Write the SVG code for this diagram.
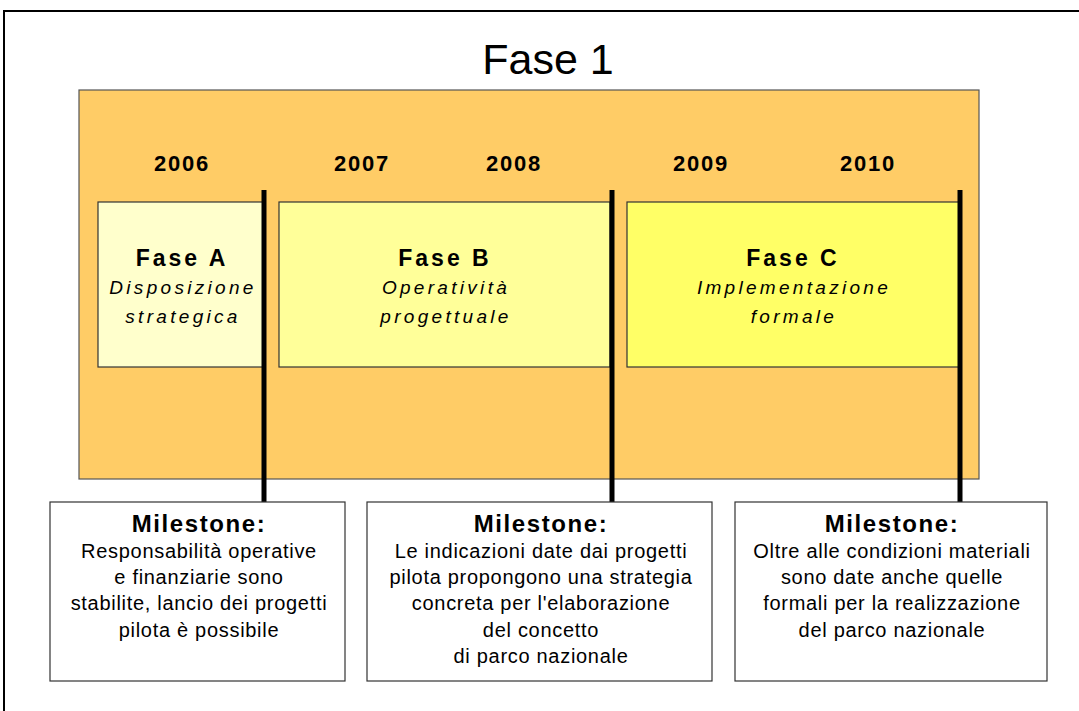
<svg xmlns="http://www.w3.org/2000/svg" width="1079" height="711" viewBox="0 0 1079 711">
<style>
text{font-family:"Liberation Sans",Arial,sans-serif;fill:#000;text-anchor:middle}
.title{font-size:43px}
.year{font-size:22px;font-weight:bold;letter-spacing:1.8px}
.ph{font-size:23px;font-weight:bold;letter-spacing:3px}
.sub{font-size:19px;font-style:italic;letter-spacing:3.3px}
.ms{font-size:24px;font-weight:bold;letter-spacing:1.6px}
.body{font-size:20px;letter-spacing:0.7px}
.phase{stroke:#333;stroke-width:1.2}
.mbox{fill:#fff;stroke:#333;stroke-width:1.2}
.ml{stroke:#000;stroke-width:5}
</style>
<rect x="0" y="0" width="1079" height="711" fill="#fff"/>
<path d="M4,711 V11 H1079" fill="none" stroke="#000" stroke-width="2"/>
<text class="title" x="548" y="74">Fase 1</text>
<rect id="fase1-bg" x="79" y="90" width="900" height="389" fill="#FFCC66" stroke="#555" stroke-width="1.2"/>
<g id="years">
<text class="year" x="182" y="171">2006</text>
<text class="year" x="362" y="171">2007</text>
<text class="year" x="514" y="171">2008</text>
<text class="year" x="701" y="171">2009</text>
<text class="year" x="868" y="171">2010</text>
</g>
<g id="faseA">
<rect class="phase" x="98" y="202" width="166" height="165" fill="#FFFFCC"/>
<text class="ph" x="182" y="266">Fase A</text>
<text class="sub" x="183" y="294">Disposizione</text>
<text class="sub" x="183" y="323">strategica</text>
</g>
<g id="faseB">
<rect class="phase" x="279" y="202" width="331" height="165" fill="#FFFF99"/>
<text class="ph" x="445" y="266">Fase B</text>
<text class="sub" x="446" y="294">Operatività</text>
<text class="sub" x="446" y="323">progettuale</text>
</g>
<g id="faseC">
<rect class="phase" x="627" y="202" width="332" height="165" fill="#FFFF66"/>
<text class="ph" x="793" y="266">Fase C</text>
<text class="sub" x="794" y="294">Implementazione</text>
<text class="sub" x="794" y="323">formale</text>
</g>
<g id="connectors">
<line class="ml" x1="264" y1="190" x2="264" y2="502"/>
<line class="ml" x1="612" y1="190" x2="612" y2="502"/>
<line class="ml" x1="960" y1="190" x2="960" y2="502"/>
</g>
<g id="milestone1">
<rect class="mbox" x="50" y="502" width="295" height="179"/>
<text class="ms" x="199" y="532">Milestone:</text>
<text class="body" x="199" y="558">Responsabilità operative</text>
<text class="body" x="199" y="584">e finanziarie sono</text>
<text class="body" x="199" y="610">stabilite, lancio dei progetti</text>
<text class="body" x="199" y="637">pilota è possibile</text>
</g>
<g id="milestone2">
<rect class="mbox" x="367" y="502" width="345" height="179"/>
<text class="ms" x="541" y="532">Milestone:</text>
<text class="body" x="541" y="558">Le indicazioni date dai progetti</text>
<text class="body" x="541" y="584">pilota propongono una strategia</text>
<text class="body" x="541" y="610">concreta per l'elaborazione</text>
<text class="body" x="541" y="637">del concetto</text>
<text class="body" x="541" y="663">di parco nazionale</text>
</g>
<g id="milestone3">
<rect class="mbox" x="735" y="502" width="312" height="179"/>
<text class="ms" x="892" y="532">Milestone:</text>
<text class="body" x="892" y="558">Oltre alle condizioni materiali</text>
<text class="body" x="892" y="584">sono date anche quelle</text>
<text class="body" x="892" y="610">formali per la realizzazione</text>
<text class="body" x="892" y="637">del parco nazionale</text>
</g>
</svg>
